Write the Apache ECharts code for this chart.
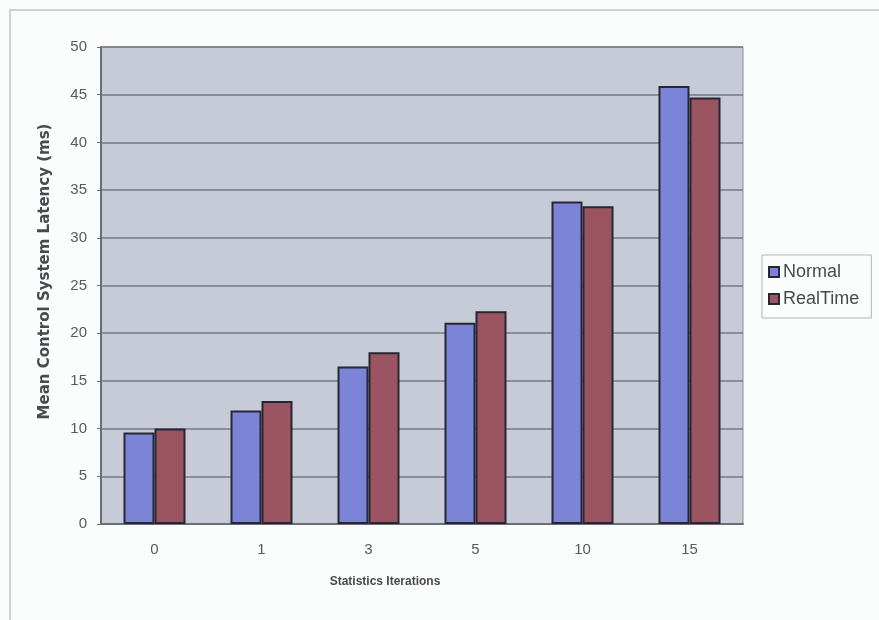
<!DOCTYPE html>
<html>
<head>
<meta charset="utf-8">
<script src="https://cdn.jsdelivr.net/npm/echarts@6/dist/echarts.min.js"></script>
<style>
  html, body { margin: 0; padding: 0; background: #fbfcfc; }
  #chart { width: 879px; height: 620px; }
</style>
</head>
<body>
<div id="chart"></div>
<script>
// Statistics iterations on the x axis
const categories = ['0', '1', '3', '5', '10', '15'];
// Mean control system latency (ms) per scheduling mode
const normalValues = [9.6, 11.9, 16.5, 21.1, 33.8, 45.9];
const realTimeValues = [10.0, 12.9, 18.0, 22.3, 33.3, 44.7];

const chart = echarts.init(document.getElementById('chart'), null, { renderer: 'canvas' });

const barBorder = { borderColor: '#272733', borderWidth: 2 };
const labelFont = 'Liberation Sans, Arial, sans-serif';

chart.setOption({
  backgroundColor: '#fbfcfc',
  animation: false,
  graphic: [
    {
      type: 'polyline',
      shape: { points: [[10, 620], [10, 10], [879, 10]] },
      style: { stroke: '#cfd2d4', lineWidth: 2, fill: null },
      silent: true
    }
  ],
  grid: {
    left: 101, right: 136, top: 47, bottom: 96,
    show: true,
    backgroundColor: '#c6cbd7',
    borderColor: '#8a8f98',
    borderWidth: 1
  },
  legend: {
    orient: 'vertical',
    left: 762, top: 255,
    itemWidth: 10, itemHeight: 10,
    itemGap: 9,
    padding: [8, 12, 10, 6],
    borderColor: '#b4b6b8', borderWidth: 1,
    icon: 'rect',
    textStyle: { fontFamily: labelFont, fontSize: 18, color: '#4a4a4e', padding: [0, 0, 0, -1] },
    data: ['Normal', 'RealTime']
  },
  xAxis: {
    type: 'category',
    data: categories,
    name: 'Statistics Iterations',
    nameLocation: 'middle',
    nameGap: 52,
    nameTextStyle: { fontFamily: labelFont, fontWeight: 'bold', fontSize: 12, color: '#4a4a4e', padding: [0, 74, 0, 0] },
    axisLine: { lineStyle: { color: '#6a6e76', width: 2 } },
    axisTick: { show: false },
    axisLabel: { fontFamily: labelFont, fontSize: 15, color: '#5a5a5e', margin: 18 }
  },
  yAxis: {
    type: 'value',
    min: 0, max: 50, interval: 5,
    name: 'Mean Control System Latency (ms)',
    nameLocation: 'middle',
    nameGap: 48,
    nameTextStyle: { fontFamily: 'DejaVu Sans, sans-serif', fontWeight: 'bold', fontSize: 15, color: '#4a4a4e', padding: [0, 0, 0, 28] },
    axisLine: { show: true, lineStyle: { color: '#6a6e76', width: 2 } },
    axisTick: { show: true, length: 4, inside: false, lineStyle: { color: '#6a6e76' } },
    axisLabel: { fontFamily: labelFont, fontSize: 15, color: '#5a5a5e', margin: 14 },
    splitLine: { lineStyle: { color: '#767a84', width: 1.5 } }
  },
  series: [
    {
      name: 'Normal',
      type: 'bar',
      data: normalValues,
      barWidth: 31,
      barGap: '0%',
      itemStyle: Object.assign({ color: '#7c84d8' }, barBorder)
    },
    {
      name: 'RealTime',
      type: 'bar',
      data: realTimeValues,
      barWidth: 31,
      barGap: '0%',
      itemStyle: Object.assign({ color: '#9a5462' }, barBorder)
    }
  ]
});
</script>
</body>
</html>
